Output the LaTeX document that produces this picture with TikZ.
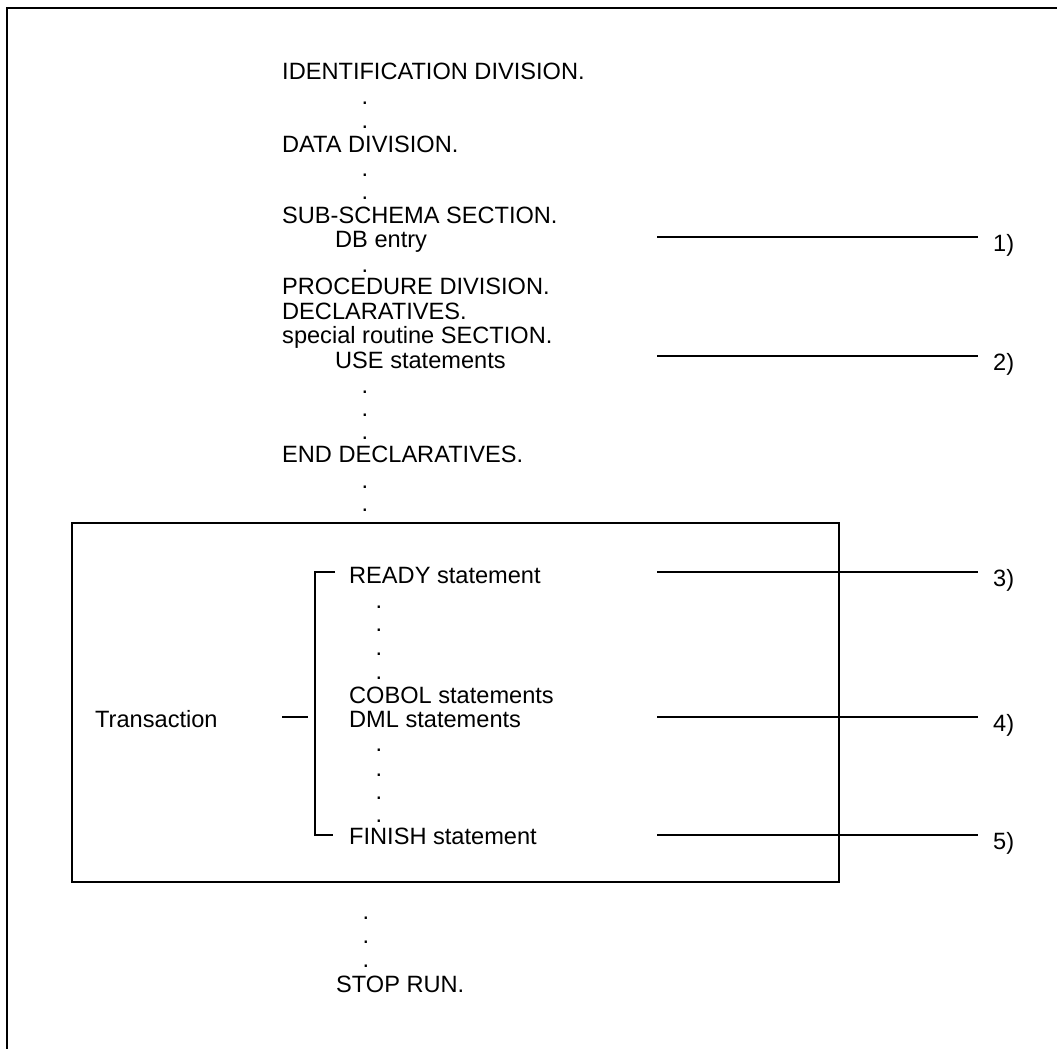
\documentclass[tikz,border=0pt]{standalone}
\usepackage{fontspec}
\setmainfont{Liberation Sans}
\begin{document}
\begin{tikzpicture}[x=1pt,y=-1pt,
  txt/.style={anchor=base west,inner sep=0pt,font=\fontsize{23.6}{24}\selectfont},
  dotn/.style={anchor=center,inner sep=0pt,font=\fontsize{23.6}{24}\selectfont},
  lbl/.style={anchor=base west,inner sep=0pt,font=\fontsize{23.6}{24}\selectfont},
  frame/.style={line width=1.3pt},
  conn/.style={line width=1.1pt}]
\useasboundingbox (0,0) rectangle (1057,1049);
% outer frame
\coordinate (fr1) at (1057,8);
\coordinate (fr2) at (7,8);
\coordinate (fr3) at (7,1049);
\draw[frame] (fr1) -- (fr2) -- (fr3);
% transaction box
\coordinate (bx1) at (72,523);
\coordinate (bx2) at (839,882);
\draw[conn] (bx1) rectangle (bx2);
% program text
\node[txt] (idd) at (282,79) {IDENTIFICATION DIVISION.};
\node[txt] (dd) at (282,152) {DATA DIVISION.};
\node[txt] (ss) at (282,223) {SUB-SCHEMA SECTION.};
\node[txt] (db) at (335,247) {DB entry};
\node[txt] (pd) at (282,294) {PROCEDURE DIVISION.};
\node[txt] (decl) at (282,319) {DECLARATIVES.};
\node[txt] (sr) at (282,343) {special routine SECTION.};
\node[txt] (use) at (335,368) {USE statements};
\node[txt] (ed) at (282,462) {END DECLARATIVES.};
\node[txt] (ready) at (349,583) {READY statement};
\node[txt] (cobol) at (349,703) {COBOL statements};
\node[txt] (dml) at (349,727) {DML statements};
\node[txt] (finish) at (349,844) {FINISH statement};
\node[txt] (trans) at (95,727) {Transaction};
\node[txt] (stop) at (336,992) {STOP RUN.};
% dots
\foreach \y [count=\i] in {103,127,175,198,271,392,415,438,487,510}
  \node[dotn] (da\i) at (365,\y) {.};
\foreach \y [count=\i] in {607,630,654,678,750,775,798,821}
  \node[dotn] (db\i) at (379,\y) {.};
\foreach \y [count=\i] in {918,942,966}
  \node[dotn] (dc\i) at (366,\y) {.};
% bracket
\coordinate (bt1) at (335,572);
\coordinate (bt2) at (315,572);
\coordinate (bt3) at (315,835);
\coordinate (bt4) at (333,835);
\draw[conn] (bt1) -- (bt2) -- (bt3) -- (bt4);
\coordinate (tr1) at (282,717);
\coordinate (tr2) at (308,717);
\draw[conn] (tr1) -- (tr2);
% footnote lines
\foreach \ly/\n in {237/1,356/2,572/3,717/4,835/5}{
  \coordinate (ls\n) at (657,\ly);
  \coordinate (le\n) at (978,\ly);
  \node[lbl] (lab\n) at (993,\ly+14) {\n)};
  \draw[conn] (ls\n) -- (le\n);
}
\end{tikzpicture}
\end{document}
